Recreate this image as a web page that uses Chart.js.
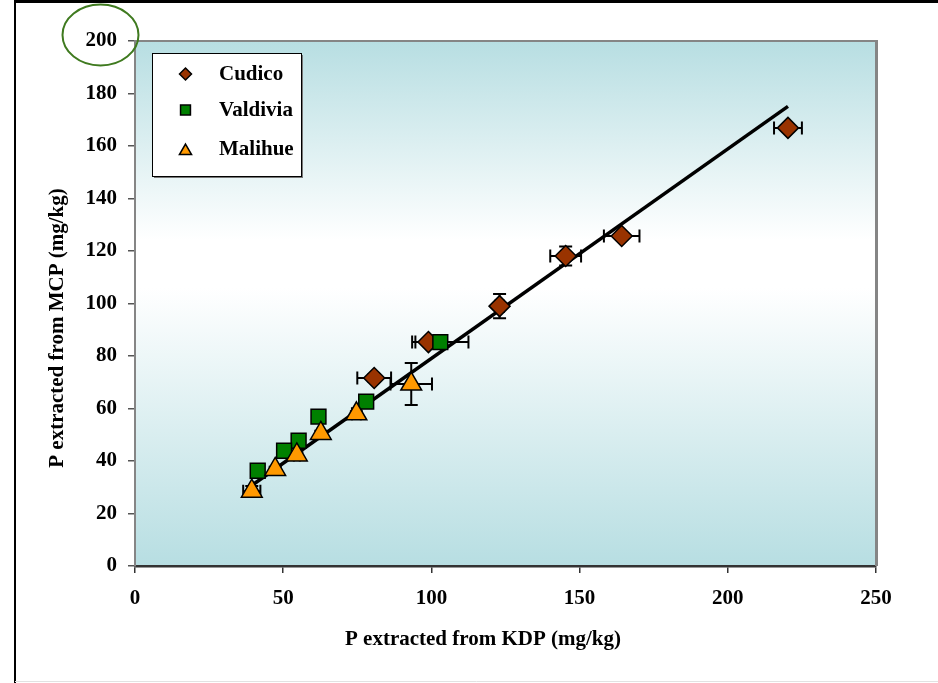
<!DOCTYPE html>
<html>
<head>
<meta charset="utf-8">
<script src="https://cdn.jsdelivr.net/npm/chart.js@4.4.0/dist/chart.umd.min.js"></script>
<style>
  html, body { margin: 0; padding: 0; background: #fff; }
  #wrap { position: relative; width: 938px; height: 683px; }
</style>
</head>
<body>
<div id="wrap"><canvas id="chart" width="938" height="683"></canvas></div>
<script>
// ---- data (mg/kg) ----
const seriesNames = ["Cudico", "Valdivia", "Malihue"];

const cudicoX = [220.3, 164.2, 145.3, 123.0, 99.0, 80.7];
const cudicoY = [166.9, 125.7, 118.1, 99.0, 85.3, 71.6];
const cudicoXErr = [4.7, 6.0, 5.2, 1.5, 4.4, 5.7];
const cudicoYErr = [1.0, 1.0, 3.6, 4.6, 1.0, 1.5];

const valdiviaX = [103.0, 78.0, 61.9, 55.2, 50.3, 41.4];
const valdiviaY = [85.3, 62.6, 56.9, 47.7, 43.9, 36.3];
const valdiviaXErr = [9.5, 1.5, 1.0, 1.0, 1.0, 1.0];
const valdiviaYErr = [1.0, 1.0, 1.0, 1.0, 1.0, 1.0];

const malihueX = [93.2, 74.7, 62.7, 54.6, 47.3, 39.4];
const malihueY = [69.3, 58.0, 50.5, 42.3, 36.8, 28.5];
const malihueXErr = [7.0, 1.5, 1.0, 1.0, 1.0, 2.9];
const malihueYErr = [8.0, 1.0, 1.0, 1.0, 1.0, 2.0];

// linear fit drawn through the data
const fitX = [39.0, 220.3];
const fitY = [30.4, 175.1];

const xTicks = [0, 50, 100, 150, 200, 250];
const yTicks = [0, 20, 40, 60, 80, 100, 120, 140, 160, 180, 200];

const xTitle = "P extracted from KDP (mg/kg)";
const yTitle = "P extracted from MCP (mg/kg)";

const FONT = '"Liberation Serif", "Times New Roman", serif';

function pts(xs, ys) {
  return xs.map(function (x, i) { return { x: x, y: ys[i] }; });
}

// error bars, drawn under the markers
const errorBars = {
  id: "errorBars",
  beforeDatasetsDraw: function (chart) {
    const ctx = chart.ctx;
    const xs = chart.scales.x, ys = chart.scales.y;
    const cap = 6.5;
    ctx.save();
    ctx.strokeStyle = "#000";
    ctx.lineWidth = 2;
    chart.data.datasets.forEach(function (ds) {
      if (!ds.xErr) return;
      ds.data.forEach(function (p, i) {
        const px = xs.getPixelForValue(p.x), py = ys.getPixelForValue(p.y);
        const x1 = xs.getPixelForValue(p.x - ds.xErr[i]);
        const x2 = xs.getPixelForValue(p.x + ds.xErr[i]);
        const y1 = ys.getPixelForValue(p.y - ds.yErr[i]);
        const y2 = ys.getPixelForValue(p.y + ds.yErr[i]);
        ctx.beginPath();
        ctx.moveTo(x1, py); ctx.lineTo(x2, py);
        ctx.moveTo(x1, py - cap); ctx.lineTo(x1, py + cap);
        ctx.moveTo(x2, py - cap); ctx.lineTo(x2, py + cap);
        ctx.moveTo(px, y1); ctx.lineTo(px, y2);
        ctx.moveTo(px - cap, y1); ctx.lineTo(px + cap, y1);
        ctx.moveTo(px - cap, y2); ctx.lineTo(px + cap, y2);
        ctx.stroke();
      });
    });
    ctx.restore();
  }
};

// gradient plot background
const plotBg = {
  id: "plotBg",
  beforeDraw: function (chart) {
    const a = chart.chartArea, ctx = chart.ctx;
    const g = ctx.createLinearGradient(0, a.top, 0, a.bottom);
    g.addColorStop(0, "#b7dee2");
    g.addColorStop(0.38, "#ffffff");
    g.addColorStop(0.47, "#ffffff");
    g.addColorStop(1, "#b7dee2");
    ctx.save();
    ctx.fillStyle = g;
    ctx.fillRect(a.left, a.top, a.right - a.left, a.bottom - a.top);
    ctx.restore();
  }
};

// frame, plot border, legend box, axis titles, annotation ellipse
const decor = {
  id: "decor",
  afterDraw: function (chart) {
    const a = chart.chartArea, ctx = chart.ctx;
    ctx.save();
    // plot border top / right
    ctx.strokeStyle = "#858585";
    ctx.lineWidth = 2;
    ctx.beginPath();
    ctx.moveTo(a.left, a.top); ctx.lineTo(a.right, a.top);
    ctx.stroke();
    ctx.lineWidth = 3;
    ctx.beginPath();
    ctx.moveTo(a.right + 0.5, a.top - 1); ctx.lineTo(a.right + 0.5, a.bottom);
    ctx.stroke();

    // outer frame
    ctx.strokeStyle = "#000";
    ctx.lineWidth = 3;
    ctx.beginPath(); ctx.moveTo(14, 1.5); ctx.lineTo(938, 1.5); ctx.stroke();
    ctx.lineWidth = 2;
    ctx.beginPath(); ctx.moveTo(15, 0); ctx.lineTo(15, 683); ctx.stroke();
    ctx.strokeStyle = "#e2e2e2";
    ctx.lineWidth = 1;
    ctx.beginPath(); ctx.moveTo(15, 681.5); ctx.lineTo(938, 681.5); ctx.stroke();

    // legend
    const lx = 152, ly = 53, lw = 149, lh = 123;
    ctx.fillStyle = "#777";
    ctx.fillRect(lx + 2, ly + 2, lw, lh);
    ctx.fillStyle = "#fff";
    ctx.fillRect(lx, ly, lw, lh);
    ctx.strokeStyle = "#000";
    ctx.lineWidth = 1;
    ctx.strokeRect(lx + 0.5, ly + 0.5, lw, lh);
    const rows = [74, 110, 149];
    const mk = [
      { pointStyle: "rectRot", radius: 6, borderWidth: 1.5 },
      { pointStyle: "rect", radius: 7, borderWidth: 1.5 },
      { pointStyle: "triangle", radius: 7, borderWidth: 1.5 }
    ];
    seriesNames.forEach(function (name, i) {
      const ds = chart.data.datasets.find(function (d) { return d.label === name; });
      ctx.fillStyle = ds.backgroundColor;
      ctx.strokeStyle = "#000";
      ctx.lineWidth = 1.5;
      Chart.helpers.drawPoint(ctx, mk[i], 185.5, rows[i] + (i === 2 ? 2 : 0));
      ctx.fillStyle = "#000";
      ctx.font = "bold 21px " + FONT;
      ctx.textAlign = "left";
      ctx.textBaseline = "middle";
      ctx.fillText(name, 219, rows[i] + 1);
    });

    // axis titles
    ctx.fillStyle = "#000";
    ctx.font = "bold 21px " + FONT;
    ctx.textAlign = "center";
    ctx.textBaseline = "middle";
    ctx.fillText(xTitle, 483, 640);
    ctx.save();
    ctx.translate(58, 328);
    ctx.rotate(-Math.PI / 2);
    ctx.fillText(yTitle, 0, 0);
    ctx.restore();

    // hand-drawn ellipse around the 200 label
    ctx.strokeStyle = "#3f7a1f";
    ctx.lineWidth = 2;
    ctx.beginPath();
    ctx.ellipse(100.5, 35, 38, 30.5, 0, 0, Math.PI * 2);
    ctx.stroke();
    ctx.restore();
  }
};

new Chart(document.getElementById("chart"), {
  type: "scatter",
  data: {
    datasets: [
      {
        label: seriesNames[2],
        order: 0,
        data: pts(malihueX, malihueY),
        xErr: malihueXErr, yErr: malihueYErr,
        pointStyle: "triangle", pointRadius: 12,
        backgroundColor: "#ff9900", borderColor: "#000", borderWidth: 1.5
      },
      {
        label: seriesNames[1],
        order: 1,
        data: pts(valdiviaX, valdiviaY),
        xErr: valdiviaXErr, yErr: valdiviaYErr,
        pointStyle: "rect", pointRadius: 10.5,
        backgroundColor: "#008000", borderColor: "#000", borderWidth: 1.5
      },
      {
        label: seriesNames[0],
        order: 2,
        data: pts(cudicoX, cudicoY),
        xErr: cudicoXErr, yErr: cudicoYErr,
        pointStyle: "rectRot", pointRadius: 10.5,
        backgroundColor: "#993300", borderColor: "#000", borderWidth: 1.5
      },
      {
        label: "fit",
        order: 3,
        type: "line",
        data: pts(fitX, fitY),
        borderColor: "#000", borderWidth: 3.5,
        pointRadius: 0, fill: false, tension: 0
      }
    ]
  },
  options: {
    responsive: false,
    animation: false,
    devicePixelRatio: 1,
    layout: { padding: { top: 41, right: 62, bottom: 0, left: 0 } },
    plugins: {
      legend: { display: false },
      title: { display: false },
      tooltip: { enabled: false }
    },
    scales: {
      x: {
        type: "linear", min: 0, max: 250,
        afterBuildTicks: function (s) { s.ticks = xTicks.map(function (v) { return { value: v }; }); },
        afterFit: function (s) { s.height = 117; },
        ticks: { color: "#000", font: { family: FONT, size: 21, weight: "bold" }, padding: 13, maxRotation: 0 },
        grid: { drawOnChartArea: false, drawTicks: true, tickLength: 7, color: "#333", lineWidth: 1.5 },
        border: { color: "#333", width: 2.5 }
      },
      y: {
        type: "linear", min: 0, max: 200,
        afterBuildTicks: function (s) { s.ticks = yTicks.map(function (v) { return { value: v }; }); },
        afterFit: function (s) { s.width = 135; },
        ticks: { color: "#000", font: { family: FONT, size: 21, weight: "bold" }, padding: 11 },
        grid: { drawOnChartArea: false, drawTicks: true, tickLength: 7, color: "#555", lineWidth: 1.5 },
        border: { color: "#858585", width: 2 }
      }
    }
  },
  plugins: [plotBg, errorBars, decor]
});
</script>
</body>
</html>
